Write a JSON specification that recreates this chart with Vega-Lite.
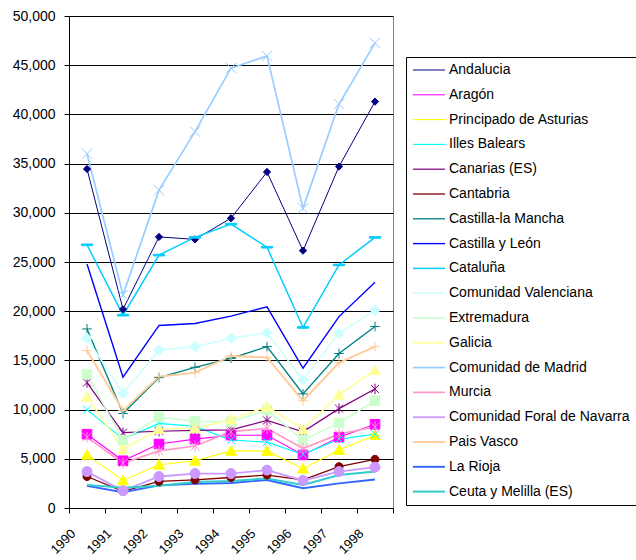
{
 "$schema": "https://vega.github.io/schema/vega-lite/v6.json",
 "width": 324,
 "height": 492,
 "autosize": {"type": "none"},
 "padding": {"left": 69, "top": 16, "right": 243, "bottom": 52},
 "background": "white",
 "config": {
  "font": "Liberation Sans",
  "view": {"stroke": "#808080", "strokeWidth": 1},
  "legend": {
   "orient": "none", "legendX": 337, "legendY": 41,
   "strokeColor": "#000000", "fillColor": "#ffffff", "padding": 6,
   "labelFont": "Liberation Sans", "labelFontSize": 14, "labelColor": "#000000", "labelLimit": 260,
   "symbolSize": 64, "symbolStrokeWidth": 2, "symbolOffset": 10, "labelOffset": 13,
   "rowPadding": 10.8
  }
 },
 "data": {"values": [
  {"r":"Andalucia","year":"1990","v":34450},{"r":"Andalucia","year":"1991","v":20200},{"r":"Andalucia","year":"1992","v":27550},{"r":"Andalucia","year":"1993","v":27300},{"r":"Andalucia","year":"1994","v":29450},{"r":"Andalucia","year":"1995","v":34150},{"r":"Andalucia","year":"1996","v":26150},{"r":"Andalucia","year":"1997","v":34700},{"r":"Andalucia","year":"1998","v":41300},
  {"r":"Aragón","year":"1990","v":7500},{"r":"Aragón","year":"1991","v":4800},{"r":"Aragón","year":"1992","v":6500},{"r":"Aragón","year":"1993","v":7000},{"r":"Aragón","year":"1994","v":7400},{"r":"Aragón","year":"1995","v":7400},{"r":"Aragón","year":"1996","v":5400},{"r":"Aragón","year":"1997","v":7200},{"r":"Aragón","year":"1998","v":8500},
  {"r":"Principado de Asturias","year":"1990","v":5400},{"r":"Principado de Asturias","year":"1991","v":2800},{"r":"Principado de Asturias","year":"1992","v":4400},{"r":"Principado de Asturias","year":"1993","v":4800},{"r":"Principado de Asturias","year":"1994","v":5800},{"r":"Principado de Asturias","year":"1995","v":5800},{"r":"Principado de Asturias","year":"1996","v":4000},{"r":"Principado de Asturias","year":"1997","v":5900},{"r":"Principado de Asturias","year":"1998","v":7400},
  {"r":"Illes Balears","year":"1990","v":10000},{"r":"Illes Balears","year":"1991","v":7000},{"r":"Illes Balears","year":"1992","v":8600},{"r":"Illes Balears","year":"1993","v":8300},{"r":"Illes Balears","year":"1994","v":6900},{"r":"Illes Balears","year":"1995","v":6700},{"r":"Illes Balears","year":"1996","v":5450},{"r":"Illes Balears","year":"1997","v":7000},{"r":"Illes Balears","year":"1998","v":7500},
  {"r":"Canarias (ES)","year":"1990","v":12750},{"r":"Canarias (ES)","year":"1991","v":7650},{"r":"Canarias (ES)","year":"1992","v":7800},{"r":"Canarias (ES)","year":"1993","v":7900},{"r":"Canarias (ES)","year":"1994","v":7950},{"r":"Canarias (ES)","year":"1995","v":8900},{"r":"Canarias (ES)","year":"1996","v":7750},{"r":"Canarias (ES)","year":"1997","v":10100},{"r":"Canarias (ES)","year":"1998","v":12100},
  {"r":"Cantabria","year":"1990","v":3200},{"r":"Cantabria","year":"1991","v":1700},{"r":"Cantabria","year":"1992","v":2700},{"r":"Cantabria","year":"1993","v":2850},{"r":"Cantabria","year":"1994","v":3100},{"r":"Cantabria","year":"1995","v":3350},{"r":"Cantabria","year":"1996","v":2850},{"r":"Cantabria","year":"1997","v":4200},{"r":"Cantabria","year":"1998","v":4950},
  {"r":"Castilla-la Mancha","year":"1990","v":18200},{"r":"Castilla-la Mancha","year":"1991","v":9600},{"r":"Castilla-la Mancha","year":"1992","v":13250},{"r":"Castilla-la Mancha","year":"1993","v":14300},{"r":"Castilla-la Mancha","year":"1994","v":15200},{"r":"Castilla-la Mancha","year":"1995","v":16400},{"r":"Castilla-la Mancha","year":"1996","v":11600},{"r":"Castilla-la Mancha","year":"1997","v":15700},{"r":"Castilla-la Mancha","year":"1998","v":18450},
  {"r":"Castilla y León","year":"1990","v":24800},{"r":"Castilla y León","year":"1991","v":13300},{"r":"Castilla y León","year":"1992","v":18550},{"r":"Castilla y León","year":"1993","v":18750},{"r":"Castilla y León","year":"1994","v":19500},{"r":"Castilla y León","year":"1995","v":20450},{"r":"Castilla y León","year":"1996","v":14200},{"r":"Castilla y León","year":"1997","v":19450},{"r":"Castilla y León","year":"1998","v":22950},
  {"r":"Cataluña","year":"1990","v":26750},{"r":"Cataluña","year":"1991","v":19600},{"r":"Cataluña","year":"1992","v":25700},{"r":"Cataluña","year":"1993","v":27500},{"r":"Cataluña","year":"1994","v":28850},{"r":"Cataluña","year":"1995","v":26500},{"r":"Cataluña","year":"1996","v":18350},{"r":"Cataluña","year":"1997","v":24700},{"r":"Cataluña","year":"1998","v":27500},
  {"r":"Comunidad Valenciana","year":"1990","v":17250},{"r":"Comunidad Valenciana","year":"1991","v":11650},{"r":"Comunidad Valenciana","year":"1992","v":16050},{"r":"Comunidad Valenciana","year":"1993","v":16400},{"r":"Comunidad Valenciana","year":"1994","v":17250},{"r":"Comunidad Valenciana","year":"1995","v":17800},{"r":"Comunidad Valenciana","year":"1996","v":13000},{"r":"Comunidad Valenciana","year":"1997","v":17750},{"r":"Comunidad Valenciana","year":"1998","v":20100},
  {"r":"Extremadura","year":"1990","v":13600},{"r":"Extremadura","year":"1991","v":6900},{"r":"Extremadura","year":"1992","v":9250},{"r":"Extremadura","year":"1993","v":8800},{"r":"Extremadura","year":"1994","v":8750},{"r":"Extremadura","year":"1995","v":9950},{"r":"Extremadura","year":"1996","v":6900},{"r":"Extremadura","year":"1997","v":8650},{"r":"Extremadura","year":"1998","v":10900},
  {"r":"Galicia","year":"1990","v":11300},{"r":"Galicia","year":"1991","v":5950},{"r":"Galicia","year":"1992","v":8000},{"r":"Galicia","year":"1993","v":8100},{"r":"Galicia","year":"1994","v":9000},{"r":"Galicia","year":"1995","v":10300},{"r":"Galicia","year":"1996","v":8000},{"r":"Galicia","year":"1997","v":11500},{"r":"Galicia","year":"1998","v":14000},
  {"r":"Comunidad de Madrid","year":"1990","v":36000},{"r":"Comunidad de Madrid","year":"1991","v":21650},{"r":"Comunidad de Madrid","year":"1992","v":32300},{"r":"Comunidad de Madrid","year":"1993","v":38250},{"r":"Comunidad de Madrid","year":"1994","v":44700},{"r":"Comunidad de Madrid","year":"1995","v":45950},{"r":"Comunidad de Madrid","year":"1996","v":30450},{"r":"Comunidad de Madrid","year":"1997","v":41050},{"r":"Comunidad de Madrid","year":"1998","v":47250},
  {"r":"Murcia","year":"1990","v":7200},{"r":"Murcia","year":"1991","v":4550},{"r":"Murcia","year":"1992","v":5800},{"r":"Murcia","year":"1993","v":6300},{"r":"Murcia","year":"1994","v":7750},{"r":"Murcia","year":"1995","v":8100},{"r":"Murcia","year":"1996","v":6050},{"r":"Murcia","year":"1997","v":7500},{"r":"Murcia","year":"1998","v":8250},
  {"r":"Comunidad Foral de Navarra","year":"1990","v":3700},{"r":"Comunidad Foral de Navarra","year":"1991","v":1750},{"r":"Comunidad Foral de Navarra","year":"1992","v":3200},{"r":"Comunidad Foral de Navarra","year":"1993","v":3500},{"r":"Comunidad Foral de Navarra","year":"1994","v":3500},{"r":"Comunidad Foral de Navarra","year":"1995","v":3850},{"r":"Comunidad Foral de Navarra","year":"1996","v":2800},{"r":"Comunidad Foral de Navarra","year":"1997","v":3700},{"r":"Comunidad Foral de Navarra","year":"1998","v":4150},
  {"r":"Pais Vasco","year":"1990","v":16000},{"r":"Pais Vasco","year":"1991","v":9900},{"r":"Pais Vasco","year":"1992","v":13350},{"r":"Pais Vasco","year":"1993","v":13750},{"r":"Pais Vasco","year":"1994","v":15450},{"r":"Pais Vasco","year":"1995","v":15300},{"r":"Pais Vasco","year":"1996","v":10900},{"r":"Pais Vasco","year":"1997","v":14750},{"r":"Pais Vasco","year":"1998","v":16400},
  {"r":"La Rioja","year":"1990","v":2250},{"r":"La Rioja","year":"1991","v":1600},{"r":"La Rioja","year":"1992","v":2300},{"r":"La Rioja","year":"1993","v":2450},{"r":"La Rioja","year":"1994","v":2550},{"r":"La Rioja","year":"1995","v":2850},{"r":"La Rioja","year":"1996","v":2000},{"r":"La Rioja","year":"1997","v":2500},{"r":"La Rioja","year":"1998","v":2900},
  {"r":"Ceuta y Melilla (ES)","year":"1990","v":2350},{"r":"Ceuta y Melilla (ES)","year":"1991","v":2050},{"r":"Ceuta y Melilla (ES)","year":"1992","v":2250},{"r":"Ceuta y Melilla (ES)","year":"1993","v":2650},{"r":"Ceuta y Melilla (ES)","year":"1994","v":2750},{"r":"Ceuta y Melilla (ES)","year":"1995","v":3000},{"r":"Ceuta y Melilla (ES)","year":"1996","v":2350},{"r":"Ceuta y Melilla (ES)","year":"1997","v":3350},{"r":"Ceuta y Melilla (ES)","year":"1998","v":3700}
 ]},
 "encoding": {
  "x": {"field": "year", "type": "ordinal",
   "scale": {"type": "band", "paddingInner": 0, "paddingOuter": 0},
   "axis": {"title": null, "labelAngle": -45, "labelAlign": "right", "labelBaseline": "middle", "tickBand": "extent",
    "tickSize": 5, "tickColor": "#000000", "domainColor": "#000000", "labelColor": "#000000",
    "labelFont": "Liberation Sans", "labelFontSize": 13, "labelPadding": 18, "labelOffset": -14, "grid": false}},
  "y": {"field": "v", "type": "quantitative",
   "scale": {"domain": [0, 50000], "nice": false},
   "axis": {"title": null, "values": [0,5000,10000,15000,20000,25000,30000,35000,40000,45000,50000], "format": ",d",
    "tickSize": 5, "tickColor": "#000000", "domainColor": "#000000", "gridColor": "#000000", "gridOpacity": 1,
    "labelColor": "#000000", "labelFont": "Liberation Sans", "labelFontSize": 14, "labelPadding": 9}}
 },
 "layer": [
  {"mark": {"type": "line"},
   "encoding": {
    "stroke": {"field": "r", "type": "nominal",
     "scale": {"domain": ["Andalucia","Aragón","Principado de Asturias","Illes Balears","Canarias (ES)","Cantabria","Castilla-la Mancha","Castilla y León","Cataluña","Comunidad Valenciana","Extremadura","Galicia","Comunidad de Madrid","Murcia","Comunidad Foral de Navarra","Pais Vasco","La Rioja","Ceuta y Melilla (ES)"],
      "range": ["#000080","#FF00FF","#FFFF00","#00FFFF","#800080","#800000","#008080","#0000FF","#00CCFF","#CCFFFF","#CCFFCC","#FFFF99","#99CCFF","#FF99CC","#CC99FF","#FFCC99","#3366FF","#33CCCC"]},
     "legend": {"title": null, "symbolType": "M-4,0H4"}},
    "strokeWidth": {"field": "r", "type": "nominal",
     "scale": {"domain": ["Andalucia","Aragón","Principado de Asturias","Illes Balears","Canarias (ES)","Cantabria","Castilla-la Mancha","Castilla y León","Cataluña","Comunidad Valenciana","Extremadura","Galicia","Comunidad de Madrid","Murcia","Comunidad Foral de Navarra","Pais Vasco","La Rioja","Ceuta y Melilla (ES)"],
      "range": [1,2,2,2,2,2,2,2,2,2,2,2,2,2,2,2,2,2]},
     "legend": {"title": null, "symbolType": "M-4,0H4"}}
   }},
  {"mark": {"type": "point", "opacity": 1, "size": 64, "strokeWidth": 1},
   "encoding": {
    "stroke": {"field": "r", "type": "nominal",
     "legend": {"title": null, "symbolType": "M-4,0H4"}},
    "fill": {"field": "r", "type": "nominal",
     "scale": {"domain": ["Andalucia","Aragón","Principado de Asturias","Illes Balears","Canarias (ES)","Cantabria","Castilla-la Mancha","Castilla y León","Cataluña","Comunidad Valenciana","Extremadura","Galicia","Comunidad de Madrid","Murcia","Comunidad Foral de Navarra","Pais Vasco","La Rioja","Ceuta y Melilla (ES)"],
      "range": ["#000080","#FF00FF","#FFFF00","#00FFFF","#800080","#800000","#008080","#0000FF","#00CCFF","#CCFFFF","#CCFFCC","#FFFF99","#99CCFF","#FF99CC","#CC99FF","#FFCC99","#3366FF","#33CCCC"]},
     "legend": {"title": null, "symbolType": "M-4,0H4"}},
    "shape": {"field": "r", "type": "nominal", "legend": null,
     "scale": {"domain": ["Andalucia","Aragón","Principado de Asturias","Illes Balears","Canarias (ES)","Cantabria","Castilla-la Mancha","Castilla y León","Cataluña","Comunidad Valenciana","Extremadura","Galicia","Comunidad de Madrid","Murcia","Comunidad Foral de Navarra","Pais Vasco","La Rioja","Ceuta y Melilla (ES)","_"],
      "range": [
       "M0,-0.9L0.9,0L0,0.9L-0.9,0Z",
       "M-1.2,-1.2H1.2V1.2H-1.2Z",
       "M0,-1.3L1.35,1.1H-1.35Z",
       "M-1,-1L1,1M-1,1L1,-1",
       "M-1,-1L1,1M-1,1L1,-1M0,-1.3V1.3",
       "M1,0A1,1,0,1,1,-1,0A1,1,0,1,1,1,0Z",
       "M-1.2,0H1.2M0,-1.2V1.2",
       "M0,0",
       "M-1.4,-0.2H1.4V0.2H-1.4Z",
       "M0,-1.3L1.3,0L0,1.3L-1.3,0Z",
       "M-1.2,-1.2H1.2V1.2H-1.2Z",
       "M0,-1.3L1.35,1.1H-1.35Z",
       "M-1.3,-1.3L1.3,1.3M-1.3,1.3L1.3,-1.3",
       "M-1.1,-1.1L1.1,1.1M-1.1,1.1L1.1,-1.1M0,-1.4V1.4",
       "M1.25,0A1.25,1.25,0,1,1,-1.25,0A1.25,1.25,0,1,1,1.25,0Z",
       "M-1.2,0H1.2M0,-1.2V1.2",
       "M0,0",
       "M0,0",
       "M0,0"]}}
   }}
 ]
}
